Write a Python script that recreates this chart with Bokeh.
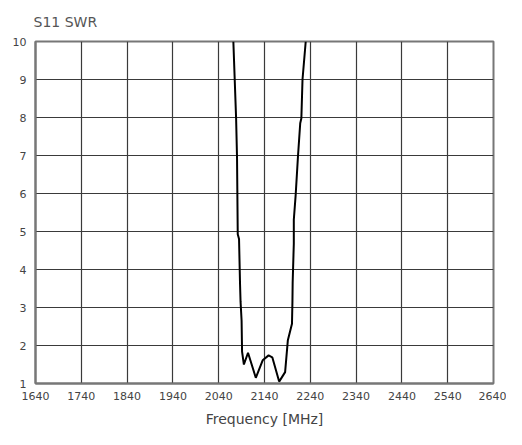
from bokeh.plotting import figure
from bokeh.embed import file_html
from bokeh.resources import INLINE
from bokeh.models import FixedTicker, Range1d

freq_mhz = [2072, 2078, 2080, 2081.6, 2084.4, 2086.6, 2087.7, 2090, 2091, 2095,
            2104, 2121, 2136, 2149, 2157, 2172, 2185, 2191, 2200, 2201,
            2201.5, 2204, 2204, 2208, 2213, 2218, 2220.5, 2223, 2230]
swr = [10.0, 7.98, 6.96, 4.93, 4.8, 3.61, 3.16, 2.65, 1.84, 1.5,
       1.81, 1.15, 1.61, 1.74, 1.69, 1.05, 1.3, 2.14, 2.57, 3.16,
       3.66, 4.68, 5.31, 5.95, 6.96, 7.85, 7.98, 9.0, 10.0]

x_ticks = list(range(1640, 2641, 100))
y_ticks = list(range(1, 11))

p = figure(width=506, height=429, output_backend="svg", toolbar_location=None,
           x_range=Range1d(1640, 2640), y_range=Range1d(1, 10),
           min_border_left=35, min_border_right=13, min_border_top=40,
           min_border_bottom=46)

p.title.text = "S11 SWR"
p.title.align = "left"
p.title.text_font = "DejaVu Sans"
p.title.text_font_size = "14px"
p.title.text_font_style = "normal"
p.title.text_color = "#555555"
p.title.standoff = 23
p.title.offset = -2

p.line(freq_mhz, swr, line_color="black", line_width=2)

for ax in (p.xaxis, p.yaxis):
    ax.axis_line_color = "#777777"
    ax.axis_line_width = 2
    ax.major_tick_out = 0
    ax.major_tick_in = 0
    ax.minor_tick_out = 0
    ax.minor_tick_in = 0
    ax.major_label_text_font = "DejaVu Sans"
    ax.major_label_text_font_size = "11px"
    ax.major_label_text_color = "#444444"
    ax.major_label_standoff = 9

p.xaxis.major_label_standoff = 8
p.xaxis.ticker = FixedTicker(ticks=x_ticks)
p.yaxis.ticker = FixedTicker(ticks=y_ticks)
p.xaxis.axis_label = "Frequency [MHz]"
p.xaxis.axis_label_text_font = "DejaVu Sans"
p.xaxis.axis_label_text_font_size = "14px"
p.xaxis.axis_label_text_font_style = "normal"
p.xaxis.axis_label_text_color = "#444444"
p.xaxis.axis_label_standoff = 8

p.xgrid.ticker = FixedTicker(ticks=x_ticks)
p.ygrid.ticker = FixedTicker(ticks=y_ticks)
for g in (p.xgrid, p.ygrid):
    g.grid_line_color = "#3a3a3a"
    g.grid_line_width = 1.2
    g.grid_line_alpha = 1.0

p.outline_line_color = "#777777"
p.outline_line_width = 2
p.background_fill_color = "white"
p.border_fill_color = "white"

open("out.html", "w").write(file_html(p, INLINE))
